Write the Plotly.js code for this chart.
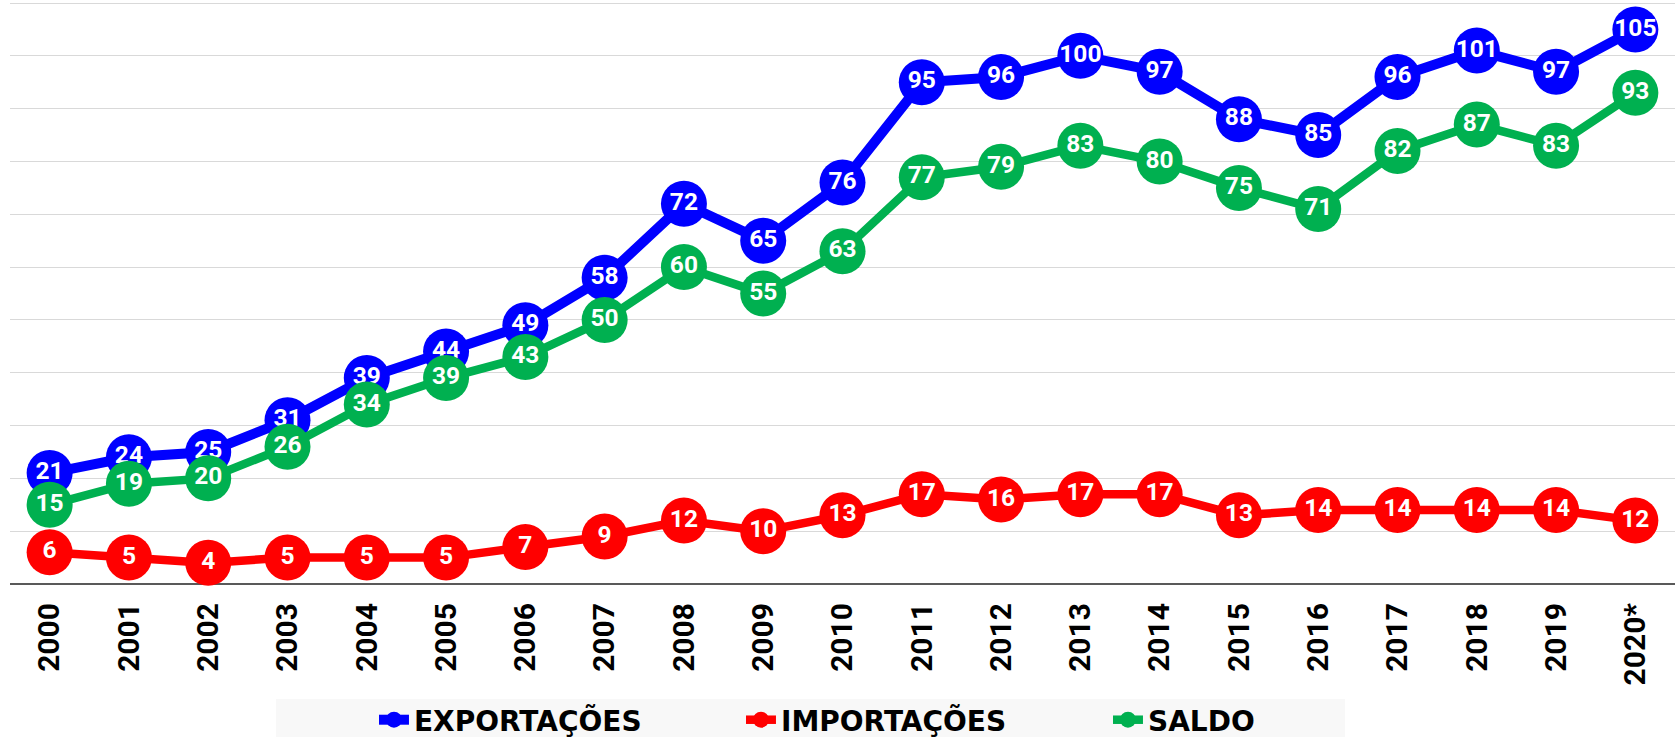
<!DOCTYPE html>
<html>
<head>
<meta charset="utf-8">
<script src="https://cdn.plot.ly/plotly-3.0.1.min.js"></script>
<style>html,body{margin:0;padding:0;background:#fff;}#chart{width:1675px;height:737px;}</style>
</head>
<body>
<div id="chart"></div>
<script>
const years = ["2000","2001","2002","2003","2004","2005","2006","2007","2008","2009","2010","2011","2012","2013","2014","2015","2016","2017","2018","2019","2020*"];
const exportacoes = [21,24,25,31,39,44,49,58,72,65,76,95,96,100,97,88,85,96,101,97,105];
const importacoes = [6,5,4,5,5,5,7,9,12,10,13,17,16,17,17,13,14,14,14,14,12];
const saldo = [15,19,20,26,34,39,43,50,60,55,63,77,79,83,80,75,71,82,87,83,93];

function mk(name, vals, color, lw) {
  return {
    type: 'scatter', mode: 'lines+markers+text', name: name,
    x: years, y: vals, text: vals.map(String),
    textposition: 'middle center',
    textfont: {family: 'Roboto', size: 24.5, color: '#ffffff', weight: 'bold'},
    line: {color: color, width: lw},
    marker: {color: color, size: 46},
    cliponaxis: false,
    hoverinfo: 'x+y'
  };
}

const data = [
  mk('EXPORTAÇÕES', exportacoes, '#0000ff', 10),
  mk('IMPORTAÇÕES', importacoes, '#ff0000', 8.5),
  mk('SALDO', saldo, '#00b050', 8.5)
];

const layout = {
  width: 1675, height: 737,
  margin: {l: 10, r: 0, t: 2, b: 153, autoexpand: false},
  paper_bgcolor: '#ffffff', plot_bgcolor: '#ffffff',
  font: {family: 'Roboto', color: '#000'},
  xaxis: {
    type: 'category', range: [-0.5, 20.5],
    tickangle: -90,
    tickfont: {family: 'Roboto', size: 30, color: '#000', weight: 'bold'},
    ticklabelstandoff: 12,
    showgrid: false, ticks: '', showline: false, zeroline: false,
    automargin: false
  },
  yaxis: {
    range: [0, 110.2], dtick: 10, showticklabels: false,
    showgrid: true, gridcolor: '#d9d9d9', gridwidth: 1,
    zeroline: true, zerolinecolor: '#595959', zerolinewidth: 2,
    ticks: '', showline: false, fixedrange: true, automargin: false
  },
  shapes: [{
    type: 'rect', xref: 'paper', yref: 'paper', layer: 'below',
    x0: 0.1598, x1: 0.8018, y0: -0.1976, y1: -0.28,
    fillcolor: '#f8f8f8', line: {width: 0}
  }],
  showlegend: true,
  legend: {
    orientation: 'h', x: 0.2186, xanchor: 'left', y: -0.2337, yanchor: 'middle',
    bgcolor: 'rgba(0,0,0,0)', entrywidth: 322, entrywidthmode: 'pixels',
    font: {family: 'DejaVu Sans', size: 28, color: '#000', weight: 'bold'},
    itemsizing: 'trace'
  }
};

Plotly.newPlot('chart', data, layout, {displayModeBar: false, staticPlot: true});
</script>
</body>
</html>
